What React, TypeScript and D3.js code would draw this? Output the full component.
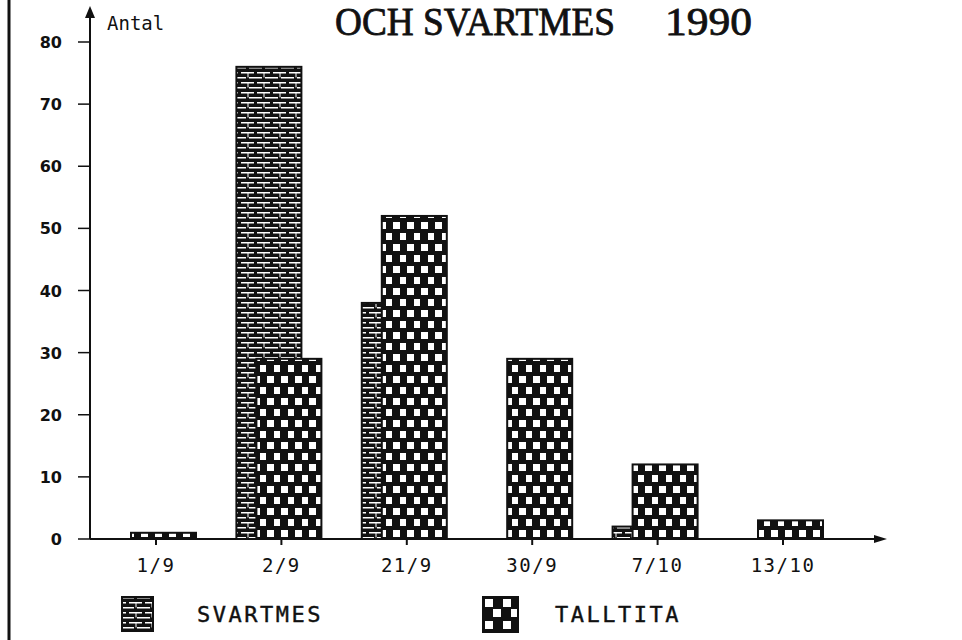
import React from "react";
import * as d3 from "d3";

const dates = ["1/9", "2/9", "21/9", "30/9", "7/10", "13/10"];
const svartmes = [0, 76, 38, 0, 2, 0];
const talltita = [1, 29, 52, 29, 12, 3];
const yTicks = [0, 10, 20, 30, 40, 50, 60, 70, 80];
const legendNames = ["SVARTMES", "TALLTITA"];

const W = 962;
const H = 640;
const mono = "'DejaVu Sans Mono', monospace";

export default function App() {
  const x = d3.scalePoint<string>().domain(dates).range([156, 783]);
  const y = d3.scaleLinear().domain([0, 80]).range([539, 42]);
  const barW = 65;

  return (
    <svg
      width={W}
      height={H}
      style={{ position: "absolute", left: 0, top: 0, background: "#fff" }}
    >
      <defs>
        {/* brick-ish fill for svartmes */}
        <pattern id="brick" width={16} height={10} patternUnits="userSpaceOnUse">
          <rect width={16} height={10} fill="#111" />
          <rect x={1} y={2} width={13} height={1.5} fill="#fff" />
          <rect x={9} y={7} width={7} height={1.5} fill="#fff" />
          <rect x={0} y={7} width={6} height={1.5} fill="#fff" />
          <rect x={7.5} y={2} width={1} height={5.5} fill="#fff" />
        </pattern>
        {/* checker fill for talltita */}
        <pattern id="check" width={14} height={22} patternUnits="userSpaceOnUse">
          <rect width={14} height={22} fill="#111" />
          <rect x={1} y={2} width={7} height={7} fill="#fff" />
          <rect x={8} y={13} width={7} height={7} fill="#fff" />
        </pattern>
        <pattern id="checkL" width={18} height={22} patternUnits="userSpaceOnUse" x={483} y={597}>
          <rect width={18} height={22} fill="#111" />
          <rect x={2} y={2} width={8} height={8} fill="#fff" />
          <rect x={10} y={12} width={8} height={8} fill="#fff" />
        </pattern>
      </defs>

      {/* page edge line */}
      <line x1={9} x2={9} y1={0} y2={H} stroke="#111" strokeWidth={3} />

      {/* title */}
      <text
        x={335}
        y={35}
        fontFamily="'Liberation Serif', serif"
        fontSize={39}
        stroke="#111"
        strokeWidth={0.8}
        textLength={280}
        lengthAdjust="spacingAndGlyphs"
        fill="#111"
      >
        OCH SVARTMES
      </text>
      <text
        x={665}
        y={35}
        fontFamily="'Liberation Serif', serif"
        fontSize={39}
        stroke="#111"
        strokeWidth={0.8}
        textLength={87}
        lengthAdjust="spacingAndGlyphs"
        fill="#111"
      >
        1990
      </text>

      {/* y axis */}
      <line x1={90} x2={90} y1={14} y2={y(0)} stroke="#111" strokeWidth={2} />
      <path d="M90,6 L85,18 L95,18 Z" fill="#111" />
      <text x={107} y={30} fontFamily={mono} fontSize={19} fill="#111">
        Antal
      </text>
      {yTicks.map((t) => (
        <g key={t}>
          <line x1={78} x2={90} y1={y(t)} y2={y(t)} stroke="#111" strokeWidth={1.5} />
          <text
            x={62}
            y={y(t) + 6}
            textAnchor="end"
            fontFamily="'DejaVu Sans', sans-serif"
            fontWeight="bold"
            fontSize={16}
            fill="#111"
          >
            {t}
          </text>
        </g>
      ))}

      {/* bars */}
      {dates.map((d, i) => {
        const c = x(d)!;
        return (
          <g key={d}>
            {svartmes[i] > 0 && (
              <rect
                x={c - 45}
                y={y(svartmes[i])}
                width={barW}
                height={y(0) - y(svartmes[i])}
                fill="url(#brick)"
                stroke="#111"
                strokeWidth={2}
              />
            )}
            {talltita[i] > 0 && (
              <rect
                x={c - 25}
                y={y(talltita[i])}
                width={barW}
                height={y(0) - y(talltita[i])}
                fill="url(#check)"
                stroke="#111"
                strokeWidth={2}
              />
            )}
          </g>
        );
      })}

      {/* x axis */}
      <line x1={90} x2={878} y1={y(0)} y2={y(0)} stroke="#111" strokeWidth={2} />
      <path d={`M887,${y(0)} L874,${y(0) - 4} L874,${y(0) + 4} Z`} fill="#111" />
      {dates.map((d) => (
        <g key={d}>
          <line x1={x(d)!} x2={x(d)!} y1={y(0)} y2={y(0) + 6} stroke="#111" strokeWidth={2} />
          <text
            x={x(d)!}
            y={572}
            textAnchor="middle"
            fontFamily={mono}
            fontSize={19}
            letterSpacing={1.5}
            fill="#111"
          >
            {d}
          </text>
        </g>
      ))}

      {/* legend */}
      <rect x={122} y={597} width={31} height={34} fill="url(#brick)" stroke="#111" strokeWidth={2} />
      <text x={197} y={622} fontFamily={mono} fontSize={22} letterSpacing={2.5} stroke="#111" strokeWidth={0.4} fill="#111">
        {legendNames[0]}
      </text>
      <rect x={483} y={597} width={35} height={35} fill="url(#checkL)" stroke="#111" strokeWidth={2} />
      <text x={555} y={622} fontFamily={mono} fontSize={22} letterSpacing={2.5} stroke="#111" strokeWidth={0.4} fill="#111">
        {legendNames[1]}
      </text>
    </svg>
  );
}
